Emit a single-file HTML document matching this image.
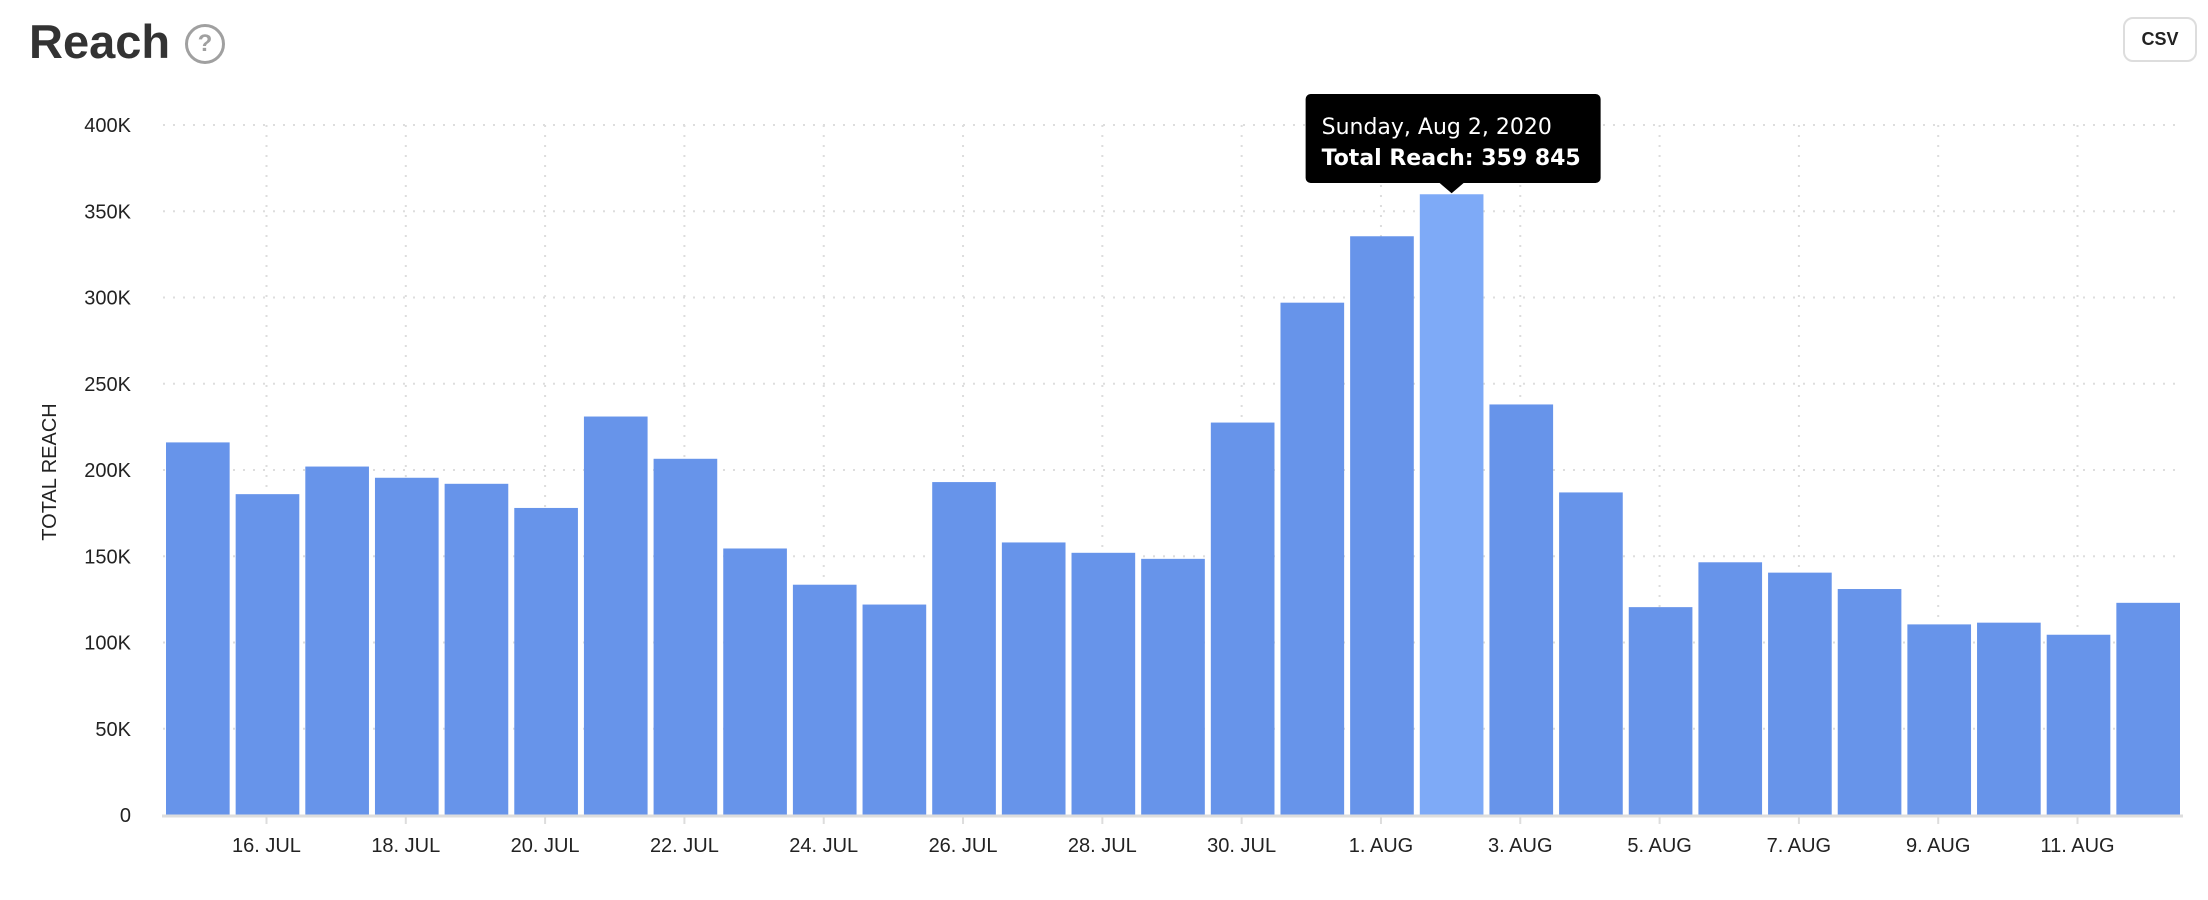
<!DOCTYPE html>
<html><head><meta charset="utf-8"><style>
body{margin:0;width:2208px;height:900px;background:#fff;font-family:"Liberation Sans",sans-serif;overflow:hidden;position:relative}
#title{position:absolute;left:29px;top:14px;font-size:47px;font-weight:bold;color:#333;margin:0}
#help{position:absolute;left:185px;top:24px;width:34px;height:34px;border:3px solid #a0a0a0;border-radius:50%;color:#a0a0a0;font-size:24px;font-weight:bold;text-align:center;line-height:34px}
#csv{position:absolute;left:2123px;top:17px;width:70px;height:41px;border:2px solid #ddd;border-radius:10px;background:#fff;font-size:18px;font-weight:bold;color:#222;text-align:center;line-height:41px}
svg{position:absolute;left:0;top:0}
</style></head><body>
<h1 id="title">Reach</h1>
<div id="help">?</div>
<div id="csv">CSV</div>
<svg id="chart" width="2208" height="900"></svg>
<script>
const categories=["15 Jul","16 Jul","17 Jul","18 Jul","19 Jul","20 Jul","21 Jul","22 Jul","23 Jul","24 Jul","25 Jul","26 Jul","27 Jul","28 Jul","29 Jul","30 Jul","31 Jul","1 Aug","2 Aug","3 Aug","4 Aug","5 Aug","6 Aug","7 Aug","8 Aug","9 Aug","10 Aug","11 Aug","12 Aug"];
const reach=[216000,186000,202000,195500,192000,178000,231000,206500,154500,133500,122000,193000,158000,152000,148500,227500,297000,335500,359845,238000,187000,120500,146500,140500,131000,110500,111500,104500,123000];
const yTicks=[0,50000,100000,150000,200000,250000,300000,350000,400000];
const yTickLabels=["0","50K","100K","150K","200K","250K","300K","350K","400K"];
const xTickIdx=[1,3,5,7,9,11,13,15,17,19,21,23,25,27];
const xTickLabels=["16. JUL","18. JUL","20. JUL","22. JUL","24. JUL","26. JUL","28. JUL","30. JUL","1. AUG","3. AUG","5. AUG","7. AUG","9. AUG","11. AUG"];
const highlight=18;
const L=163,R=2183,T=125,B=815,yMax=400000;
const step=(R-L)/categories.length;
const y=v=>B-v/yMax*(B-T);
const x=i=>L+i*step;
const svg=document.getElementById('chart');const NS='http://www.w3.org/2000/svg';
function mk(t,a,p){const e=document.createElementNS(NS,t);for(const k in a)e.setAttribute(k,a[k]);(p||svg).appendChild(e);return e;}
yTicks.forEach((v,i)=>{
 if(v>0){const g=mk('line',{x1:L,x2:R,y1:y(v),y2:y(v),stroke:'#ddd','stroke-width':2,'stroke-dasharray':'2 8'});
 
 }
 const t=mk('text',{x:131,y:y(v)+7,'text-anchor':'end','font-size':20,fill:'#222'});t.textContent=yTickLabels[i];
 
 
});
xTickIdx.forEach((idx,i)=>{
 const cx=x(idx)+step/2-1;
 const g=mk('line',{x1:cx,x2:cx,y1:T,y2:B,stroke:'#ddd','stroke-width':2,'stroke-dasharray':'2 8'});
 
 
 const tk=mk('line',{x1:cx,x2:cx,y1:B,y2:B+9,stroke:'#ddd','stroke-width':2});
 
 
 const t=mk('text',{x:cx,y:852,'text-anchor':'middle','font-size':20,fill:'#222'});t.textContent=xTickLabels[i];
 
 
});
reach.forEach((v,i)=>{
 const r=mk('rect',{x:x(i)+3,y:y(v),width:step-6,height:B-y(v),fill:i===highlight?'#7eaaf7':'#6794ea'});
 
 
});
const ax=mk('line',{x1:L-1,x2:R,y1:B+1,y2:B+1,stroke:'#ddd','stroke-width':3});


const yt=mk('text',{x:0,y:0,transform:'translate(56,472) rotate(-90)','text-anchor':'middle','font-size':20,fill:'#222'});yt.textContent='TOTAL REACH';


// tooltip
const hx=x(highlight)+step/2, hy=y(reach[highlight]);
const tg=mk('g',{});


mk('rect',{x:hx-146,y:94,width:295,height:89,rx:5,fill:'#000'},tg);
mk('path',{d:`M${hx-12} 183 L${hx} ${hy-1} L${hx+12} 183 Z`,fill:'#000'},tg);
const t1=mk('text',{x:hx-130,y:134,'font-size':22,fill:'#fff','font-family':'DejaVu Sans, sans-serif'},tg);t1.textContent='Sunday, Aug 2, 2020';
const t2=mk('text',{x:hx-130,y:165,'font-size':22,fill:'#fff','font-weight':'bold','font-family':'DejaVu Sans, sans-serif'},tg);t2.textContent='Total Reach: 359 845';
</script>
</body></html>
